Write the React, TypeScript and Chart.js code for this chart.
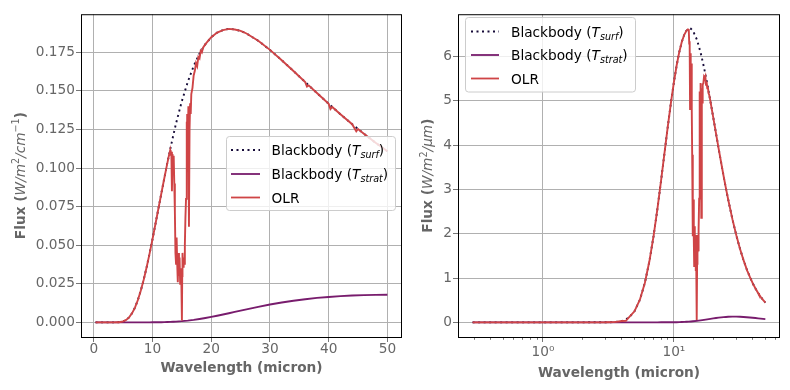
import React, { useEffect, useRef } from 'react';
import { Chart, registerables } from 'chart.js';

Chart.register(...registerables);

// ---------------- data ----------------
// Blackbody curves: wavelength grid (micron)
const bbWavelength = [
  0.29, 0.5, 1, 2, 3, 3.5, 4, 4.5, 5, 5.5, 6, 6.5, 7, 7.5, 8, 8.5, 9, 9.5, 10, 10.5,
  11, 11.5, 12, 12.5, 13, 13.5, 14, 15, 16, 17, 18, 19, 20, 21, 22, 23, 24, 25, 26,
  28, 30, 32, 34, 36, 38, 40, 42, 44, 46, 48, 50,
];
// Flux per wavenumber (W/m^2/cm^-1)
const surfFluxWn = [
  0, 0, 0, 0, 0, 0.00001, 0.00005, 0.0002, 0.00062, 0.00154, 0.0032, 0.00582, 0.00955,
  0.01448, 0.0206, 0.0278, 0.0359, 0.0447, 0.0541, 0.0639, 0.0738, 0.0837, 0.0934, 0.1029,
  0.112, 0.1207, 0.1289, 0.1435, 0.1559, 0.1661, 0.1742, 0.1803, 0.1848, 0.1878, 0.1894,
  0.1902, 0.1898, 0.1889, 0.1872, 0.1825, 0.1766, 0.1699, 0.1629, 0.1557, 0.1486, 0.1416,
  0.1349, 0.1284, 0.1223, 0.1164, 0.1109,
];
const stratFluxWn = [
  0, 0, 0, 0, 0, 0, 0, 0, 0, 0, 0, 0, 0, 0, 0, 0, 0.000005, 0.00001, 0.00002, 0.00004,
  0.00006, 0.00009, 0.00013, 0.00019, 0.00027, 0.00036, 0.00047, 0.00076, 0.00114, 0.00161,
  0.00217, 0.00281, 0.00352, 0.00428, 0.00508, 0.00591, 0.00676, 0.00761, 0.00844, 0.01006,
  0.01155, 0.01287, 0.01403, 0.01501, 0.01583, 0.01647, 0.01698, 0.01736, 0.01761, 0.01777,
  0.01785,
];
// Flux per wavelength (W/m^2/micron)
const surfFluxWl = [
  0, 0, 0, 0, 0.0005, 0.0055, 0.029, 0.099, 0.249, 0.509, 0.888, 1.377, 1.95, 2.575, 3.219,
  3.844, 4.431, 4.957, 5.413, 5.794, 6.1, 6.328, 6.487, 6.584, 6.626, 6.623, 6.576, 6.378,
  6.09, 5.747, 5.377, 4.996, 4.62, 4.259, 3.914, 3.595, 3.295, 3.022, 2.77, 2.328, 1.963,
  1.659, 1.409, 1.201, 1.029, 0.885, 0.765, 0.663, 0.578, 0.505, 0.444,
];
const stratFluxWl = [
  0, 0, 0, 0, 0, 0, 0, 0, 0, 0, 0, 0, 0, 0, 0.0002, 0.0003, 0.0006, 0.0012, 0.0021, 0.0033,
  0.005, 0.0069, 0.0093, 0.0122, 0.0157, 0.0196, 0.0239, 0.0336, 0.0444, 0.0557, 0.0669,
  0.0778, 0.0879, 0.0971, 0.105, 0.1117, 0.1173, 0.1218, 0.1249, 0.1283, 0.1283, 0.1257,
  0.1214, 0.1158, 0.1096, 0.103, 0.0963, 0.0897, 0.0832, 0.0771, 0.0714,
];

// OLR: wavelength grid (micron), dense in the 15 micron CO2 band
const olrWavelength = [
  0.29, 0.5, 1, 2, 3, 3.5, 4, 4.3, 4.5, 5, 5.5, 6, 6.5, 7, 7.5, 8, 8.5, 9, 9.5, 10, 10.5,
  11, 11.5, 12, 12.5,
  12.8, 13.0, 13.1, 13.2, 13.3, 13.4, 13.5, 13.6, 13.7, 13.8, 13.9, 14.0, 14.1, 14.2, 14.3,
  14.4, 14.5, 14.6, 14.7, 14.8, 14.9, 15.0, 15.05, 15.1, 15.2, 15.3, 15.4, 15.5, 15.6, 15.7,
  15.8, 15.85, 15.9, 16.0, 16.1, 16.2, 16.3, 16.4, 16.5, 16.6, 16.8, 17.0, 17.2, 17.4, 17.6,
  17.8, 18.0, 18.2, 18.4, 18.6,
  19, 20, 21, 22, 23, 24, 25, 26, 28, 30, 32, 34, 36, 36.3, 36.6, 38, 40, 40.3, 40.6, 42,
  44, 44.7, 45, 46, 48, 50,
];
const olrFluxWn = [
  0, 0, 0, 0, 0, 0.00001, 0.00005, 0.00007, 0.0002, 0.00062, 0.00154, 0.0032, 0.00582,
  0.00955, 0.01448, 0.0206, 0.0278, 0.0359, 0.0447, 0.0541, 0.0639, 0.0738, 0.0837, 0.0934,
  0.1029,
  0.1083, 0.1115, 0.108, 0.1105, 0.085, 0.109, 0.104, 0.108, 0.09, 0.072, 0.045, 0.038,
  0.055, 0.038, 0.026, 0.045, 0.03, 0.042, 0.025, 0.035, 0.028, 0.0012, 0.03, 0.045, 0.036,
  0.042, 0.038, 0.05, 0.068, 0.08, 0.13, 0.1, 0.135, 0.11, 0.14, 0.062, 0.125, 0.142, 0.135,
  0.148, 0.152, 0.16, 0.163, 0.168, 0.166, 0.172, 0.171, 0.176, 0.175, 0.178,
  0.1803, 0.1848, 0.1878, 0.1894, 0.1902, 0.1898, 0.1889, 0.1872, 0.1825, 0.1766, 0.1699,
  0.1629, 0.1557, 0.1528, 0.1536, 0.1486, 0.1416, 0.1382, 0.1396, 0.1349, 0.1284, 0.1238,
  0.1253, 0.1223, 0.1164, 0.1109,
];
const olrFluxWl = [
  0, 0, 0, 0, 0.0005, 0.0055, 0.029, 0.035, 0.099, 0.249, 0.509, 0.888, 1.377, 1.95, 2.575,
  3.219, 3.844, 4.431, 4.957, 5.413, 5.794, 6.1, 6.328, 6.487, 6.584,
  6.61, 6.6, 6.29, 6.34, 4.81, 6.07, 5.71, 5.84, 4.8, 3.78, 2.33, 1.94, 2.77, 1.88, 1.27,
  2.17, 1.43, 1.97, 1.16, 1.6, 1.26, 0.053, 1.32, 1.97, 1.56, 1.79, 1.6, 2.08, 2.79, 3.25,
  5.21, 3.98, 5.34, 4.3, 5.4, 2.36, 4.71, 5.28, 4.96, 5.37, 5.39, 5.54, 5.51, 5.55, 5.36,
  5.43, 5.28, 5.31, 5.17, 5.14,
  4.996, 4.62, 4.259, 3.914, 3.595, 3.295, 3.022, 2.77, 2.328, 1.963, 1.659, 1.409, 1.201,
  1.16, 1.147, 1.029, 0.885, 0.851, 0.847, 0.765, 0.663, 0.62, 0.619, 0.578, 0.505, 0.444,
];

// Ticks
const leftXTicks = [0, 10, 20, 30, 40, 50];
const leftXLabels = ['0', '10', '20', '30', '40', '50'];
const leftYTicks = [0, 0.025, 0.05, 0.075, 0.1, 0.125, 0.15, 0.175];
const leftYLabels = ['0.000', '0.025', '0.050', '0.075', '0.100', '0.125', '0.150', '0.175'];
const rightXTicks = [1, 10];
const rightXLabels = ['10\u2070', '10\u00b9'];
const rightXMinor = [0.3, 0.4, 0.5, 0.6, 0.7, 0.8, 0.9, 2, 3, 4, 5, 6, 7, 8, 9, 20, 30, 40, 50, 60];
const rightYTicks = [0, 1, 2, 3, 4, 5, 6];
const rightYLabels = ['0', '1', '2', '3', '4', '5', '6'];

// Legend / series names
const seriesName = ['Blackbody (', 'Blackbody (', 'OLR'];
const seriesSub = ['surf', 'strat', ''];
const xTitle = 'Wavelength (micron)';

// ---------------- styling ----------------
const FAMILY = '"DejaVu Sans", sans-serif';
const GRAY = '#666666';
const GRID = '#b0b0b0';
const C_SURF = '#160b39';
const C_STRAT = '#781c6d';
const C_OLR = '#cf4446';
const FS = 13.7;
const SS = 9.6;

type Part = { t: string; size: number; italic?: boolean; bold?: boolean; dy?: number };
const fontOf = (p: Part) => `${p.italic ? 'italic ' : ''}${p.bold ? 'bold ' : ''}${p.size}px ${FAMILY}`;

function partsWidth(ctx: CanvasRenderingContext2D, parts: Part[]) {
  let w = 0;
  for (const p of parts) {
    ctx.font = fontOf(p);
    w += ctx.measureText(p.t).width;
  }
  return w;
}
function drawParts(ctx: CanvasRenderingContext2D, parts: Part[], x: number, y: number) {
  let cx = x;
  for (const p of parts) {
    ctx.font = fontOf(p);
    ctx.fillText(p.t, cx, y + (p.dy || 0));
    cx += ctx.measureText(p.t).width;
  }
}

const legendParts: Part[][] = seriesName.map((n, i) =>
  seriesSub[i]
    ? [
        { t: n, size: FS },
        { t: 'T', size: FS, italic: true },
        { t: seriesSub[i], size: SS, italic: true, dy: 3 },
        { t: ')', size: FS },
      ]
    : [{ t: n, size: FS }]
);
const legendColors = [C_SURF, C_STRAT, C_OLR];
const legendDash = [[2, 3.5], [], []];

const pts = (xs: number[], ys: number[]) => xs.map((x, i) => ({ x, y: ys[i] }));

interface Panel {
  width: number;
  xType: 'linear' | 'logarithmic';
  xMin: number; xMax: number; yMin: number; yMax: number;
  xTicks: number[]; xLabels: string[]; xMinor: number[];
  yTicks: number[]; yLabels: string[];
  surf: { x: number; y: number }[]; strat: { x: number; y: number }[]; olr: { x: number; y: number }[];
  yTitle: Part[];
  yTitleX: number; xTitleY: number;
  yAxisWidth: number; padRight: number; xLabelPad: number;
  legendBox: [number, number, number, number];
  handle: [number, number]; textX: number; rows: number[];
}

function build(canvas: HTMLCanvasElement, p: Panel) {
  const decor = {
    id: 'decor',
    afterDraw(chart: any) {
      const ctx = chart.ctx as CanvasRenderingContext2D;
      const a = chart.chartArea;
      const xs = chart.scales.x;
      const ys = chart.scales.y;
      const al = (v: number) => Math.round(v - 0.5) + 0.5;
      ctx.save();
      ctx.setLineDash([]);
      ctx.lineWidth = 1;
      ctx.strokeStyle = '#777777';
      ctx.beginPath();
      p.xTicks.forEach((v) => {
        const x = al(xs.getPixelForValue(v));
        ctx.moveTo(x, a.bottom);
        ctx.lineTo(x, a.bottom + 5);
      });
      p.xMinor.forEach((v) => {
        const x = al(xs.getPixelForValue(v));
        ctx.moveTo(x, a.bottom);
        ctx.lineTo(x, a.bottom + 2.8);
      });
      p.yTicks.forEach((v) => {
        const y = al(ys.getPixelForValue(v));
        ctx.moveTo(a.left - 5, y);
        ctx.lineTo(a.left, y);
      });
      ctx.stroke();
      // frame
      ctx.strokeStyle = '#000000';
      ctx.strokeRect(a.left + 0.5, a.top + 0.5, a.right - a.left - 1, a.bottom - a.top);
      // x title
      ctx.fillStyle = GRAY;
      ctx.textBaseline = 'alphabetic';
      const xt: Part[] = [{ t: xTitle, size: FS, bold: true }];
      drawParts(ctx, xt, (a.left + a.right) / 2 - partsWidth(ctx, xt) / 2, p.xTitleY);
      // y title
      ctx.save();
      ctx.translate(p.yTitleX, (a.top + a.bottom) / 2);
      ctx.rotate(-Math.PI / 2);
      drawParts(ctx, p.yTitle, -partsWidth(ctx, p.yTitle) / 2, 0);
      ctx.restore();
      // legend
      const [l, t, r, b] = p.legendBox;
      ctx.beginPath();
      (ctx as any).roundRect(l, t, r - l, b - t, 3);
      ctx.fillStyle = 'rgba(255,255,255,0.8)';
      ctx.fill();
      ctx.strokeStyle = '#cccccc';
      ctx.lineWidth = 1;
      ctx.stroke();
      p.rows.forEach((ry, i) => {
        ctx.beginPath();
        ctx.strokeStyle = legendColors[i];
        ctx.lineWidth = 1.8;
        ctx.setLineDash(legendDash[i]);
        ctx.moveTo(p.handle[0], ry);
        ctx.lineTo(p.handle[1], ry);
        ctx.stroke();
        ctx.setLineDash([]);
        ctx.fillStyle = '#000000';
        drawParts(ctx, legendParts[i], p.textX, ry + 5);
      });
      ctx.restore();
    },
  };

  const tickFont = { family: FAMILY, size: FS };
  return new Chart(canvas, {
    type: 'line',
    data: {
      datasets: [
        { label: 'OLR', data: p.olr, borderColor: C_OLR, borderWidth: 1.9, pointRadius: 0, order: 0 },
        { label: 'strat', data: p.strat, borderColor: C_STRAT, borderWidth: 1.9, pointRadius: 0, order: 1 },
        {
          label: 'surf', data: p.surf, borderColor: C_SURF, borderWidth: 1.9, pointRadius: 0,
          borderDash: [2, 3.5], borderCapStyle: 'butt', order: 2,
        },
      ] as any,
    },
    options: {
      animation: false,
      responsive: false,
      devicePixelRatio: 1,
      layout: { padding: { left: 0, top: 10, right: p.padRight, bottom: 0 } },
      plugins: { legend: { display: false }, tooltip: { enabled: false } },
      elements: { line: { tension: 0 }, point: { radius: 0 } },
      scales: {
        x: {
          type: p.xType,
          min: p.xMin,
          max: p.xMax,
          bounds: 'data',
          afterBuildTicks: (s: any) => { s.ticks = p.xTicks.map((v) => ({ value: v })); },
          afterFit: (s: any) => { s.height = 53; },
          grid: { color: GRID, lineWidth: 1, drawTicks: false },
          border: { display: false },
          ticks: {
            autoSkip: false, maxRotation: 0, padding: p.xLabelPad, color: GRAY, font: tickFont,
            callback: (_v: any, i: number) => p.xLabels[i],
          },
        },
        y: {
          type: 'linear',
          min: p.yMin,
          max: p.yMax,
          bounds: 'data',
          afterBuildTicks: (s: any) => { s.ticks = p.yTicks.map((v) => ({ value: v })); },
          afterFit: (s: any) => { s.width = p.yAxisWidth; },
          grid: { color: GRID, lineWidth: 1, drawTicks: false },
          border: { display: false },
          ticks: {
            autoSkip: false, padding: 6, color: GRAY, font: tickFont,
            callback: (_v: any, i: number) => p.yLabels[i],
          },
        },
      } as any,
    },
    plugins: [decor],
  });
}

const leftPanel: Panel = {
  width: 415,
  xType: 'linear',
  xMin: -2.19, xMax: 52.49, yMin: -0.0095, yMax: 0.1997,
  xTicks: leftXTicks, xLabels: leftXLabels, xMinor: [],
  yTicks: leftYTicks, yLabels: leftYLabels,
  surf: pts(bbWavelength, surfFluxWn),
  strat: pts(bbWavelength, stratFluxWn),
  olr: pts(olrWavelength, olrFluxWn),
  yTitle: [
    { t: 'Flux (', size: FS, bold: true },
    { t: 'W/m', size: FS, italic: true },
    { t: '2', size: SS, dy: -5.5 },
    { t: '/cm', size: FS, italic: true },
    { t: '\u22121', size: SS, dy: -5.5 },
    { t: ')', size: FS, bold: true },
  ],
  yTitleX: 24.5, xTitleY: 371.5,
  yAxisWidth: 81, padRight: 13, xLabelPad: 4.5,
  legendBox: [226.5, 136.5, 395.5, 210.5],
  handle: [231, 260], textX: 271.5, rows: [150, 174, 197.5],
};

const rightPanel: Panel = {
  width: 385,
  xType: 'logarithmic',
  xMin: 0.2242, xMax: 64.7, yMin: -0.331, yMax: 6.951,
  xTicks: rightXTicks, xLabels: rightXLabels, xMinor: rightXMinor,
  yTicks: rightYTicks, yLabels: rightYLabels,
  surf: pts(bbWavelength, surfFluxWl),
  strat: pts(bbWavelength, stratFluxWl),
  olr: pts(olrWavelength, olrFluxWl),
  yTitle: [
    { t: 'Flux (', size: FS, bold: true },
    { t: 'W/m', size: FS, italic: true },
    { t: '2', size: SS, dy: -5.5 },
    { t: '/\u03bcm', size: FS, italic: true },
    { t: ')', size: FS, bold: true },
  ],
  yTitleX: 27, xTitleY: 376.5,
  yAxisWidth: 53, padRight: 10, xLabelPad: 7.5,
  legendBox: [60.5, 17.5, 230.5, 92],
  handle: [66, 94], textX: 106, rows: [31.5, 55, 78.5],
};

export default function App() {
  const leftRef = useRef<HTMLCanvasElement>(null);
  const rightRef = useRef<HTMLCanvasElement>(null);
  useEffect(() => {
    document.body.style.margin = '0';
    const c1 = build(leftRef.current!, leftPanel);
    const c2 = build(rightRef.current!, rightPanel);
    return () => {
      c1.destroy();
      c2.destroy();
    };
  }, []);
  return (
    <div style={{ position: 'absolute', left: 0, top: 0, width: 790, height: 390, background: '#fff' }}>
      <canvas ref={leftRef} width={415} height={390} style={{ position: 'absolute', left: 0, top: 0, width: 415, height: 390 }} />
      <canvas ref={rightRef} width={385} height={390} style={{ position: 'absolute', left: 405, top: 0, width: 385, height: 390 }} />
    </div>
  );
}
